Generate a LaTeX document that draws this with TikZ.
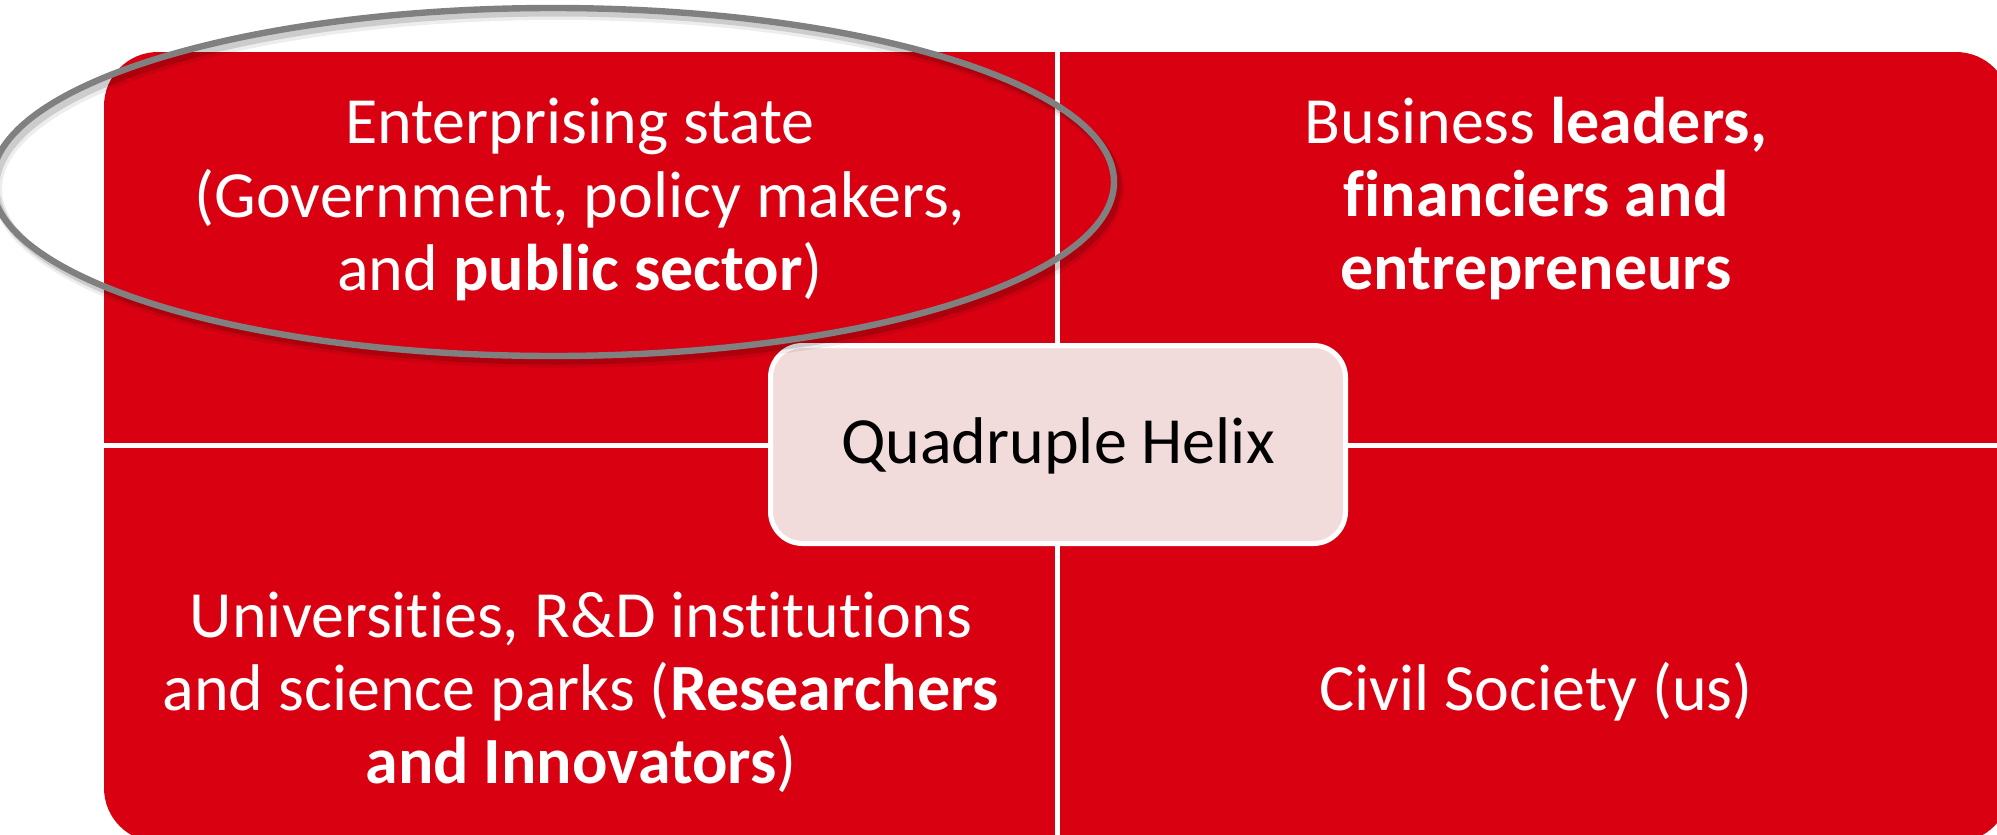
\documentclass[tikz,border=0pt]{standalone}
\usepackage{fontspec}
\setmainfont{Carlito}[Ligatures=NoCommon]
\usetikzlibrary{shapes.geometric}
\definecolor{qred}{RGB}{217,0,18}
\definecolor{qpink}{RGB}{242,220,219}
\definecolor{qgray}{RGB}{128,128,128}
\tikzset{
  qline/.style={text=white, anchor=base, inner sep=0pt, font=\fontsize{33pt}{37pt}\selectfont},
  centerbox/.style={draw=white, line width=2.5pt, fill=qpink, rounded corners=16pt,
    minimum width=287.5pt, minimum height=99pt, inner sep=0pt},
  centertext/.style={text=black, anchor=base, inner sep=0pt, font=\fontsize{33pt}{37pt}\selectfont},
  divider/.style={white, line width=2.5pt},
  highlight/.style={draw=qgray, line width=3.2pt, ellipse, inner sep=0pt, minimum width=561pt, minimum height=174pt},
  hlshadow/.style={draw=black, line width=3.5pt, ellipse, inner sep=0pt, minimum width=561pt, minimum height=174pt, draw opacity=0.14}
}
\begin{document}
\begin{tikzpicture}[x=0.5pt,y=-0.5pt]
\useasboundingbox (0,0) rectangle (1997,835);
\clip (0,0) rectangle (1997,835);
% red matrix block
\fill[qred, rounded corners=27pt] (104,52) rectangle (2010,842);
% dividers
\coordinate (vt) at (1057,52);
\coordinate (vb) at (1057,842);
\coordinate (hl) at (104,445);
\coordinate (hr) at (2010,445);
\draw[divider] (vt) -- (vb);
\draw[divider] (hl) -- (hr);
% top-left
\node[qline] (tl1) at (580,143) {Enterprising state};
\node[qline] (tl2) at (580,217) {(Government, policy makers,};
\node[qline] (tl3) at (580,290) {and \textbf{public sector})};
% top-right
\node[qline] (tr1) at (1536,143) {Business \textbf{leaders,}};
\node[qline] (tr2) at (1536,216) {\textbf{financiers and}};
\node[qline] (tr3) at (1536,289) {\textbf{entrepreneurs}};
% bottom-left
\node[qline] (bl1) at (581,637) {Universities, R\&D institutions};
\node[qline] (bl2) at (581,710) {and science parks (\textbf{Researchers}};
\node[qline] (bl3) at (581,783) {\textbf{and Innovators})};
% bottom-right
\node[qline] (br1) at (1536,710) {Civil Society (us)};
% center box
\node[centerbox] (qh) at (1058,444.5) {};
\node[centertext] (qht) at (1058,463) {Quadruple Helix};
% highlight ellipse with soft shadow
\node[hlshadow] (hs1) at (557,187) {};
\node[hlshadow, line width=5pt, draw opacity=0.07] (hs2) at (558,189) {};
\node[highlight] (he) at (553,182) {};
\end{tikzpicture}
\end{document}
